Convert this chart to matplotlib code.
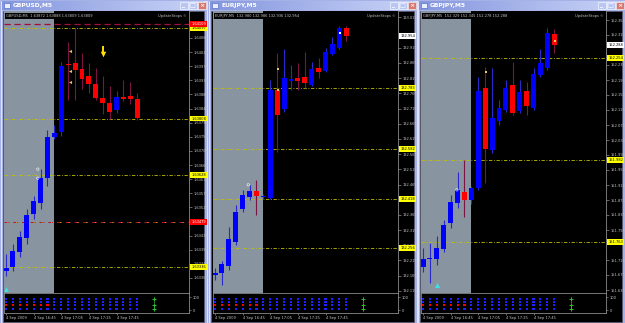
import matplotlib.pyplot as plt
from matplotlib.patches import Rectangle
from matplotlib.transforms import Affine2D, blended_transform_factory
from matplotlib.colors import LinearSegmentedColormap
import numpy as np

W, H = 625, 323

# ---------------- GBPUSD M5 ----------------
gbpusd_open = [1.63323, 1.63336, 1.63383, 1.63428, 1.63504, 1.63539, 1.63618, 1.63748, 1.63764, 1.63983,
               1.63986, 1.63967, 1.63945, 1.63919, 1.63875, 1.63859, 1.63834, 1.63878, 1.63880, 1.63872]
gbpusd_high = [1.63377, 1.63409, 1.63450, 1.63520, 1.63561, 1.63647, 1.63773, 1.63789, 1.63989, 1.64052,
               1.64097, 1.64017, 1.63986, 1.63970, 1.63945, 1.63913, 1.63897, 1.63932, 1.63926, 1.63888]
gbpusd_low = [1.63307, 1.63323, 1.63368, 1.63409, 1.63488, 1.63520, 1.63593, 1.63742, 1.63751, 1.63868,
              1.63868, 1.63903, 1.63891, 1.63868, 1.63824, 1.63808, 1.63827, 1.63865, 1.63853, 1.63805]
gbpusd_close = [1.63333, 1.63387, 1.63431, 1.63501, 1.63545, 1.63618, 1.63748, 1.63761, 1.63976, 1.63979,
                1.63964, 1.63935, 1.63919, 1.63875, 1.63859, 1.63830, 1.63878, 1.63872, 1.63872, 1.63809]
gbpusd_ticks = [1.64065, 1.64020, 1.63975, 1.63930, 1.63885, 1.63840, 1.63795, 1.63750, 1.63705, 1.63660,
                1.63615, 1.63570, 1.63525, 1.63480, 1.63435, 1.63390, 1.63345, 1.63300]
gbpusd_yellow = [1.64097, 1.63808, 1.63628, 1.63336]
gbpusd_red = [1.64109, 1.63479]

# ---------------- EURJPY M5 ----------------
eurjpy_open = [132.168, 132.174, 132.197, 132.276, 132.385, 132.424, 132.444, 132.424, 132.421, 132.776,
               132.714, 132.806, 132.816, 132.819, 132.792, 132.848, 132.839, 132.894, 132.914, 132.980]
eurjpy_high = [132.191, 132.214, 132.326, 132.398, 132.447, 132.464, 132.480, 132.434, 132.809, 132.898,
               132.911, 132.858, 132.865, 132.901, 132.868, 132.881, 132.914, 132.950, 132.987, 132.986]
eurjpy_low = [132.151, 132.135, 132.184, 132.266, 132.375, 132.414, 132.365, 132.418, 132.418, 132.572,
              132.704, 132.776, 132.776, 132.783, 132.789, 132.816, 132.835, 132.891, 132.911, 132.936]
eurjpy_close = [132.174, 132.204, 132.286, 132.375, 132.431, 132.444, 132.428, 132.428, 132.776, 132.694,
                132.816, 132.812, 132.806, 132.799, 132.845, 132.835, 132.901, 132.927, 132.980, 132.954]
eurjpy_ticks = [133.015, 132.915, 132.865, 132.815, 132.765, 132.715, 132.665, 132.615, 132.565,
                132.515, 132.465, 132.415, 132.365, 132.315, 132.265, 132.215, 132.165, 132.115]
eurjpy_yellow = [132.783, 132.582, 132.418, 132.256]

# ---------------- GBPJPY M5 ----------------
gbpjpy_open = [151.696, 151.718, 151.718, 151.744, 151.814, 151.867, 151.896, 151.875, 151.907, 152.174,
               152.008, 152.086, 152.115, 152.182, 152.112, 152.166, 152.120, 152.208, 152.227, 152.318]
gbpjpy_high = [151.747, 151.760, 151.779, 151.822, 151.888, 151.950, 151.982, 151.912, 152.203, 152.230,
               152.227, 152.142, 152.195, 152.243, 152.195, 152.190, 152.227, 152.278, 152.334, 152.331]
gbpjpy_low = [151.683, 151.654, 151.702, 151.736, 151.800, 151.854, 151.830, 151.864, 151.902, 151.920,
              152.000, 152.075, 152.110, 152.102, 152.107, 152.102, 152.115, 152.203, 152.222, 152.267]
gbpjpy_close = [151.718, 151.720, 151.747, 151.808, 151.870, 151.902, 151.875, 151.907, 152.166, 152.011,
                152.094, 152.120, 152.174, 152.107, 152.163, 152.126, 152.211, 152.240, 152.320, 152.288]
gbpjpy_ticks = [152.355, 152.315, 152.235, 152.195, 152.155, 152.115, 152.075, 152.035, 151.995,
                151.955, 151.915, 151.875, 151.835, 151.795, 151.715, 151.675, 151.635]
gbpjpy_yellow = [152.254, 151.982, 151.763]

time_ticks = [0, 4, 8, 12, 16]
time_labels = ['4 Sep 2009', '4 Sep 16:45', '4 Sep 17:05', '4 Sep 17:25', '4 Sep 17:45']

# indicator sub-window: 4 rows of squares per bar, first bars red on the 3rd row
ind_levels = [85, 62, 38, 10]
ind_red_bars = [0, 1, 2, 3, 4, 5, 6]

FRAME = '#a6b2e6'
BULL, BEAR = '#0000ff', '#ff0000'
BULL_WICK, BEAR_WICK = '#2a2acc', '#7a1444'
GRAYZONE = '#8894a0'
TXT = '#c4c4c4'
FS = 2.6

fig = plt.figure(figsize=(6.25, 3.23), dpi=100)
fig.patch.set_facecolor(FRAME)
pxT = Affine2D().scale(1 / W, -1 / H).translate(0, 1) + fig.transFigure
tb_cmap = LinearSegmentedColormap.from_list('tb', ['#8596de', '#c9d3f7'])


def px_axes(x, y, w, h, z=1):
    return fig.add_axes([x / W, 1 - (y + h) / H, w / W, h / H], zorder=z)


def window(x0, x1, title):
    fig.patches.append(Rectangle((x0 + 0.5, 0.5), x1 - x0 - 1, H - 1, transform=pxT,
                                 fc=FRAME, ec='#e8ecfb', lw=0.6, zorder=-2))
    fig.patches.append(Rectangle((x0 + 3, 10.5), x1 - x0 - 6, 311, transform=pxT,
                                 fc='black', ec='#5a5a70', lw=0.5, zorder=-1))
    tb = px_axes(x0 + 2, 1, x1 - x0 - 4, 9, z=0.5)
    tb.imshow(np.linspace(0, 1, 100).reshape(1, -1), aspect='auto', cmap=tb_cmap, extent=[0, 1, 0, 1])
    tb.axis('off')
    fig.patches.append(Rectangle((x0 + 4, 3), 6, 5, transform=pxT, fc='#e8eefc', ec='#4060c0',
                                 lw=0.4, zorder=2))
    fig.text(x0 + 13, 5.6, title, transform=pxT, color='white', fontsize=4.3,
             va='center', ha='left', fontweight='bold', zorder=3)
    for k, (fc, glyph) in enumerate([('#b9c6f3', '_'), ('#b9c6f3', '□'), ('#d9776c', '×')]):
        bx = x1 - 27 + k * 9
        fig.patches.append(Rectangle((bx, 2), 7.5, 7, transform=pxT, fc=fc, ec='white', lw=0.4, zorder=2))
        fig.text(bx + 3.8, 5.8, glyph, transform=pxT, color='white', fontsize=4.5,
                 ha='center', va='center', fontweight='bold', zorder=3)


def candles(ax, o, h, l, c, min_body):
    o, h, l, c = map(np.asarray, (o, h, l, c))
    idx = np.arange(len(o))
    up = c >= o
    ax.vlines(idx, l, h, colors=np.where(up, BULL_WICK, BEAR_WICK), lw=0.8, zorder=3)
    ax.bar(idx, np.maximum(np.abs(c - o), min_body), 0.72, bottom=np.minimum(o, c),
           color=np.where(up, BULL, BEAR), lw=0, zorder=4)


def price_label(ax, y, text, fc, tc='black'):
    tr = blended_transform_factory(ax.transAxes, ax.transData)
    ax.text(1.012, y, text, transform=tr, fontsize=FS, color=tc, va='center', ha='left',
            clip_on=False, zorder=6, bbox=dict(boxstyle='square,pad=0.25', fc=fc, ec='none'))


def panel(x0, x1, cl, cr, title, info, o, h, l, c, ticks, fmt, ylim, yellow):
    window(x0, x1, title)
    ax = px_axes(cl, 11, cr - cl, 282)
    ind = px_axes(cl, 293, cr - cl, 20)
    for a in (ax, ind):
        a.set_facecolor('black')
        a.set_xlim(-0.3, 26.5)
        for s in a.spines.values():
            s.set_color('#8a8a8a')
            s.set_linewidth(0.6)
    ax.spines['top'].set_visible(False)
    ax.spines['left'].set_visible(False)
    ax.set_ylim(*ylim)
    ax.axvspan(-0.3, 6.95, color=GRAYZONE, zorder=0, lw=0)
    candles(ax, o, h, l, c, (ylim[1] - ylim[0]) / 282)
    ax.set_xticks([])
    ax.yaxis.tick_right()
    ax.set_yticks(ticks)
    ax.set_yticklabels([fmt % t for t in ticks])
    ax.tick_params(axis='y', length=2, width=0.5, color='#8a8a8a', labelsize=FS,
                   labelcolor=TXT, pad=1)
    for lev in yellow:
        ax.axhline(lev, color='#c0c000', lw=0.6, ls=(0, (4, 2, 1, 2)), zorder=2)
        price_label(ax, lev, fmt % lev, '#ffff00')
    ax.text(0.012, 0.988, info, transform=ax.transAxes, fontsize=FS, color=TXT, va='top', ha='left',
            zorder=7, bbox=dict(boxstyle='square,pad=0.3', fc='black', ec='none'))
    ax.text(0.985, 0.988, 'UpdateStops ©', transform=ax.transAxes, fontsize=FS, color=TXT,
            va='top', ha='right', zorder=7)

    # indicator sub-window
    ind.set_ylim(-23, 131)
    n = len(o)
    for r, lev in enumerate(ind_levels):
        cols = [BEAR if (r == 2 and i in ind_red_bars) else '#1f1fff' for i in range(n)]
        ind.scatter(range(n), [lev] * n, s=2.4, marker='s', c=cols, lw=0, zorder=3)
    ind.vlines(21.5, 0, 100, color='#1f8f1f', lw=0.7, ls=(0, (1.5, 1)), zorder=3)
    ind.scatter([21.5] * 3, [85, 38, 10], s=7, marker='+', c='#2fbf2f', lw=0.7, zorder=3)
    ind.yaxis.tick_right()
    ind.set_yticks([100, 0])
    ind.set_yticklabels(['100', '0'])
    ind.set_xticks(time_ticks)
    ind.set_xticklabels(time_labels, ha='left')
    ind.tick_params(axis='both', length=1.5, width=0.5, color='#8a8a8a', labelsize=FS,
                    labelcolor=TXT, pad=1)
    return ax


ax1 = panel(0, 207, 4, 189, 'GBPUSD,M5', 'GBPUSD,M5  1.63872 1.63888 1.63809 1.63809',
            gbpusd_open, gbpusd_high, gbpusd_low, gbpusd_close, gbpusd_ticks, '%.5f',
            (1.63252, 1.64151), gbpusd_yellow)
ax1.axhline(gbpusd_red[0], color='#a0103a', lw=0.9, ls=(0, (5, 3)), zorder=2)
ax1.axhline(gbpusd_red[1], color='#c01030', lw=0.7, ls=(0, (5, 4)), zorder=2)
ax1.axhline(gbpusd_red[1], color='#c0c000', lw=0.7, ls=(6, (1, 8)), zorder=2)
for lev in gbpusd_red:
    price_label(ax1, lev, '%.5f' % lev, '#ff0000', 'white')
ax1.scatter([14], [1.64014], marker='v', s=16, c='#ffe000', lw=0, zorder=6)
ax1.vlines(14, 1.64014, 1.64040, color='#ffe000', lw=1.4, zorder=6)
ax1.scatter([9.2] * 3, [1.64024, 1.63960, 1.63926], marker='<', s=5, c='#e8c860', lw=0, zorder=6)
ax1.scatter([0], [1.63266], marker='^', s=12, c='#40e0e0', lw=0, zorder=6)
ax1.scatter([4.6, 4.6], [1.63647, 1.63618], marker='o', s=3, facecolors='none',
            edgecolors='white', lw=0.4, zorder=6)

ax2 = panel(208, 417, 213, 398, 'EURJPY,M5', 'EURJPY,M5  132.980 132.986 132.936 132.954',
            eurjpy_open, eurjpy_high, eurjpy_low, eurjpy_close, eurjpy_ticks, '%.3f',
            (132.108, 133.036), eurjpy_yellow)
price_label(ax2, eurjpy_close[-1], '%.3f' % eurjpy_close[-1], 'white')
ax2.scatter([9.1, 9.1], [132.845, 132.776], marker='s', s=3, c='#e8c860', lw=0, zorder=6)
ax2.scatter([18.1], [132.964], marker='s', s=3, c='white', lw=0, zorder=6)
ax2.scatter([4.8], [132.464], marker='o', s=3, facecolors='none', edgecolors='white', lw=0.4, zorder=6)

ax3 = panel(417, 625, 421, 606, 'GBPJPY,M5', 'GBPJPY,M5  152.329 152.345 152.278 152.288',
            gbpjpy_open, gbpjpy_high, gbpjpy_low, gbpjpy_close, gbpjpy_ticks, '%.3f',
            (151.627, 152.379), gbpjpy_yellow)
price_label(ax3, gbpjpy_close[-1], '%.3f' % gbpjpy_close[-1], 'white')
ax3.scatter([9.1, 19.1], [152.216, 152.300], marker='s', s=3, c='#e8c860', lw=0, zorder=6)
ax3.scatter([2], [151.648], marker='^', s=14, c='#40e0e0', lw=0, zorder=6)
ax3.scatter([4.9], [151.902], marker='o', s=3, facecolors='none', edgecolors='white', lw=0.4, zorder=6)

fig.savefig('out.png', dpi=100, facecolor=fig.get_facecolor())
